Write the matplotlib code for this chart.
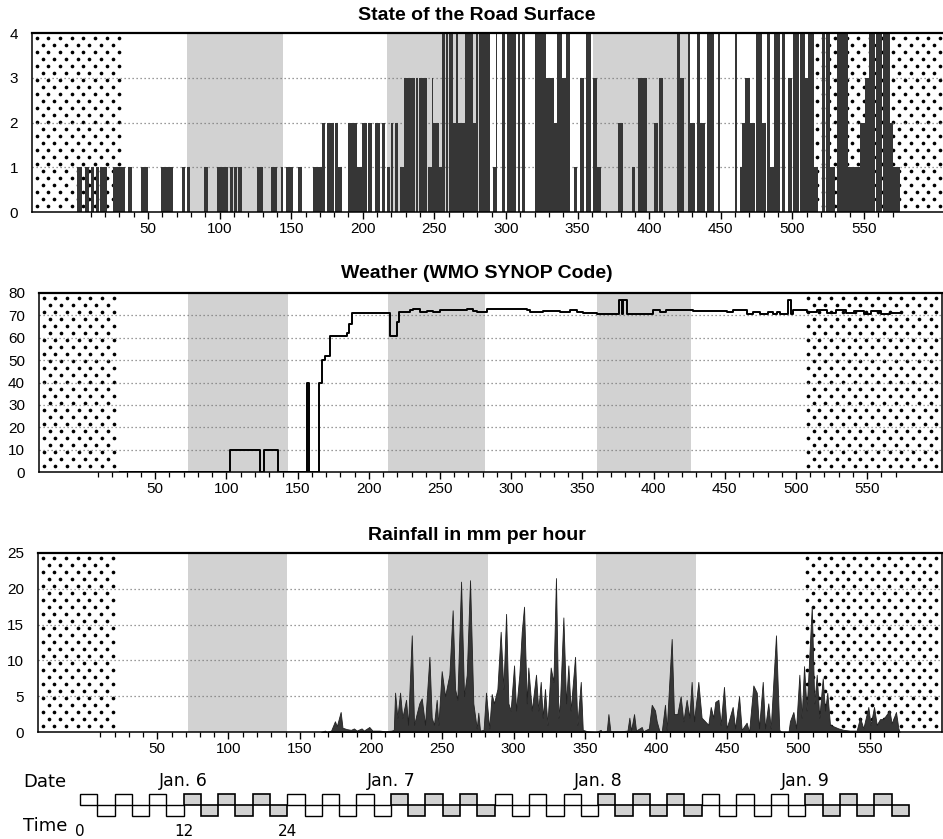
import numpy as np
import matplotlib
matplotlib.use('Agg')
import matplotlib.pyplot as plt
from matplotlib.patches import Rectangle

W, H, DPI = 943, 839, 100

# ---------------- data ----------------
# road surface state, runs of 10-minute samples: start, end, state
road_x0 = [0.2, 6.0, 10.2, 13.7, 16.5, 25.8, 36.3, 45.1, 59.1, 74.0, 77.0, 89.1, 98.0, 107.3, 110.3,
           113.1, 125.9, 135.9, 142.9, 146.4, 155.0, 165.5, 171.3, 174.8, 180.6, 183.0, 189.9, 196.2,
           199.2, 203.4, 208.5, 213.2, 216.7, 219.5, 222.5, 226.0, 228.8, 231.1, 234.6, 237.0, 239.5,
           245.5, 248.0, 249.3, 253.4, 255.0, 257.9, 260.2, 263.2, 265.3, 266.5, 271.4, 277.2, 279.1,
           281.4, 284.2, 291.2, 293.0, 297.0, 300.5, 308.6, 311.0, 320.3, 324.0, 328.0, 333.5, 335.9,
           338.9, 341.9, 347.7, 351.7, 355.9, 360.5, 363.3, 378.5, 387.8, 392.4, 395.2, 403.6, 407.1,
           419.2, 421.5, 427.3, 428.5, 433.2, 435.5, 440.2, 448.3, 459.9, 463.4, 464.6, 467.0, 470.4,
           474.6, 478.6, 482.1, 484.4, 487.2, 492.5, 497.2, 500.7, 505.0, 508.8, 511.2, 515.1, 520.5,
           523.8, 526.3, 530.9, 535.5, 539.1, 547.2, 550.7, 553.8, 558.5, 563.0, 568.2, 570.5]
road_x1 = [4.1, 8.8, 12.5, 15.8, 21.1, 34.0, 38.6, 49.8, 67.2, 75.8, 79.3, 92.1, 106.1, 109.6, 112.4,
           115.4, 130.5, 139.9, 144.5, 151.5, 157.3, 171.3, 173.6, 180.1, 183.0, 185.2, 195.7, 199.2,
           202.7, 206.2, 212.0, 215.5, 219.0, 221.3, 224.8, 228.8, 230.6, 234.1, 236.5, 238.8, 245.0,
           248.0, 249.3, 253.4, 255.0, 257.5, 259.7, 263.2, 265.0, 266.5, 271.4, 277.2, 279.1, 280.7,
           283.7, 288.9, 293.0, 294.0, 299.3, 307.0, 309.8, 313.3, 323.5, 328.0, 333.5, 335.9, 338.9,
           341.9, 344.7, 349.4, 354.5, 359.1, 363.3, 366.1, 382.0, 390.1, 394.8, 398.3, 406.4, 409.9,
           421.5, 424.3, 428.5, 432.0, 435.5, 439.0, 445.3, 449.5, 461.6, 464.6, 467.0, 470.4, 473.9,
           478.6, 481.6, 484.4, 487.2, 491.4, 494.9, 499.5, 504.5, 508.8, 511.2, 515.1, 518.1, 523.0,
           526.3, 529.8, 535.0, 539.1, 547.2, 550.7, 553.8, 558.0, 562.5, 568.2, 570.5, 575.2]
road_state = [1, 1, 1, 1, 1, 1, 1, 1, 1, 1, 1, 1, 1, 1, 1,
              1, 1, 1, 1, 1, 1, 1, 2, 2, 2, 1, 2, 1,
              2, 2, 2, 2, 1, 2, 2, 1, 3, 3, 3, 3, 3,
              1, 3, 2, 1, 4, 4, 4, 2, 4, 2, 4, 2, 4,
              4, 4, 1, 4, 4, 4, 4, 4, 4, 4, 3, 2, 4,
              3, 4, 1, 3, 4, 3, 1, 2, 1, 3, 3, 2, 3,
              4, 3, 4, 2, 4, 2, 4, 4, 4, 1, 2, 3, 2,
              4, 2, 4, 1, 4, 4, 3, 4, 4, 3, 4, 1, 4,
              4, 1, 4, 4, 1, 2, 3, 4, 4, 4, 2, 1]

# weather code (WMO SYNOP), step changes
wmo_x = [25, 102.5, 123.6, 126.6, 136, 156.4, 158.2, 165.2, 167, 169.2, 172.7, 184.4, 186, 188,
         214.9, 219.6, 221.4, 229, 231, 236, 240.6, 245.3, 250, 259.4, 268.7, 273.4, 275.7, 278,
         282.7, 310.8, 313, 322.5, 334.2, 341.2, 346, 350.6, 360, 375.9, 377.5, 378.7, 381,
         399.8, 404.4, 409, 427.9, 441.9, 451.3, 456, 465.3, 470, 474.7, 480.5, 484, 486.4,
         488.7, 494.6, 496.2, 498, 507.4, 515, 522, 528, 535, 541, 548, 553, 560, 566, 574]
wmo_code = [0, 10, 0, 10, 0, 40, 0, 40, 50, 52, 61, 62, 66, 71,
            61, 67, 71.5, 72.5, 73, 71.5, 72, 71.5, 72.5, 72.5, 72.8, 72, 71.3, 71.7,
            72.8, 72.2, 71.6, 72, 71.7, 72.5, 71.7, 71, 70.6, 77, 70.6, 77, 70.6,
            72.5, 71.7, 72.5, 72, 72, 71.4, 72.2, 70.7, 71.7, 70.7, 71.7, 70.7, 71.7,
            70.7, 77, 70.7, 72.5, 71.5, 72.4, 70.9, 72.2, 71, 72, 70.8, 71.8, 70.8, 71.2, 71.2]

# rainfall in mm per hour
rain_x = [165, 167.7, 169, 172, 174.7, 176, 178.7, 180, 183, 186, 188, 190, 193.4, 195, 198.8,
          201, 206, 210, 214.5, 216, 216.9, 218.5, 220.4, 222, 224.6, 226, 228.6, 230.2, 232,
          233.9, 235.6, 237.9, 241, 242.6, 244.2, 246.1, 247.3, 249.6, 252, 255, 257.3, 259,
          260.6, 263.2, 265.3, 267.2, 269.5, 271.8, 274.2, 275.3, 276.5, 279, 280.7, 283, 284.7,
          286.3, 288.7, 291, 292.9, 294.8, 296.4, 298, 300.4, 301.8, 304.1, 305.8, 307.4, 309.3,
          310.4, 312.8, 315.8, 317.4, 319.1, 320.5, 322.1, 323.8, 326.1, 328, 329.8, 331.5, 332.7,
          335, 336.9, 338.5, 340.1, 343.2, 344.8, 347.2, 348.6, 352, 358, 361.2, 362, 365.5, 366.6,
          368, 375, 380, 381.3, 382.5, 384.6, 386, 390, 391, 395, 397, 399.3, 400.5, 402.3, 404,
          406.3, 407.5, 411, 412.6, 415, 417.3, 419.2, 421.5, 423.4, 425, 426.7, 429.7, 432, 434.4,
          436.7, 438.4, 440.2, 441.6, 443.8, 445.4, 447.7, 449.6, 453.8, 455.5, 458.3, 460.1,
          463.6, 465.3, 468.3, 470.7, 472.3, 474.9, 476.5, 478.8, 480.5, 484.2, 486.5, 488, 493,
          494, 496.4, 498.3, 500.6, 502.2, 503.9, 505.7, 509.3, 511.1, 512.8, 514.6, 517, 518.6,
          520.2, 522.1, 524.5, 528, 531.5, 536, 540.8, 543.2, 545.5, 549, 550.6, 553, 554.9,
          557.2, 559.5, 563.8, 565.4, 568.4, 570.1, 571]
rain_mm = [0, 0.2, 0, 0.2, 1.5, 0.8, 2.8, 0.6, 0.4, 0.3, 0.5, 0.2, 0.5, 0.2, 0.7,
           0.2, 0.2, 0.1, 0.2, 0.3, 5.5, 2, 5.5, 2, 4.5, 1, 13.5, 1, 2.5,
           4, 4.7, 1, 10.5, 2, 1, 4.5, 1, 8.5, 5, 8, 17, 6,
           4.5, 21, 5, 8, 21.2, 4, 0.5, 2.7, 0.2, 0.3, 5.5, 0.5, 5.3,
           4, 6, 14, 6, 16.5, 4, 3, 9.3, 3, 8, 14, 17.5, 4,
           9, 3, 8, 3, 7, 2, 6, 1, 9, 7, 21.5, 2, 4.5,
           16, 4, 9.3, 3, 10.5, 1, 7, 0.3, 0.1, 0, 0.3, 0, 0.2, 2.5,
           0.1, 0.1, 0.2, 2, 0.2, 2.5, 0.2, 0.7, 0.1, 0.5, 3.8, 3, 1.5, 0.2, 0,
           3.8, 0.3, 13, 2.5, 2.5, 5, 1.5, 4.5, 2, 7, 1.5, 7, 2, 1.5,
           1, 3.5, 2, 4.2, 4.5, 1, 6.3, 0.5, 3.5, 0.5, 5, 0.3,
           1.3, 0, 6.5, 5.5, 0.5, 7, 0.5, 4, 0.5, 13.5, 0.3, 0, 0,
           1.5, 2.8, 0.5, 8, 2, 9.2, 3, 17.5, 4, 8, 2, 7.5, 3,
           5.5, 1, 0.8, 0.5, 0.3, 0.2, 0.2, 2, 0.5, 3.5, 1, 3.5, 1,
           1.8, 1.8, 3, 1.2, 2.8, 0.5, 0]

# night (grey) and missing-data (dotted) spans per panel, in sample units
night_road = [(77, 144), (217, 284), (361, 427)]
night_wmo = [(73, 143), (213.5, 281.6), (360, 426)]
night_rain = [(71.6, 141), (212, 282), (358, 428)]
nodata_road = [(-40, 33), (510, 700)]
nodata_wmo = [(-40, 24.6), (505, 700)]
nodata_rain = [(-40, 22.5), (503, 700)]

# time strip
night_hours = [(12, 24), (36, 48), (60, 72), (84, 96)]
date_hours = [12, 36, 60, 84]
date_labels = ['Jan. 6', 'Jan. 7', 'Jan. 8', 'Jan. 9']
hour_ticks = [0, 12, 24]

# ---------------- plotting ----------------
plt.rcParams['font.family'] = ['Liberation Sans', 'DejaVu Sans']
fig = plt.figure(figsize=(W / DPI, H / DPI), dpi=DPI)

BAR = '#363636'
GREY = '#d2d2d2'


def make_axes(left, right, top, bottom, x0px, ppu):
    ax = fig.add_axes([left / W, 1 - bottom / H, (right - left) / W, (bottom - top) / H])
    ax.set_xlim((left - x0px) / ppu, (right - x0px) / ppu)
    return ax


def add_dots(ax, x0, x1, ppu):
    x0 = max(x0, ax.get_xlim()[0])
    x1 = min(x1, ax.get_xlim()[1])
    dx = 11.7 / ppu
    xs, ys = [], []
    for i, y in enumerate(np.arange(0.035, 0.99, 7.0 / 179)):
        cols = np.arange(x0 + dx * (0.4 + 0.5 * (i % 2)), x1 - dx * 0.15, dx)
        xs.extend(cols)
        ys.extend([y] * len(cols))
    ax.scatter(xs, ys, s=7, c='black', lw=0, transform=ax.get_xaxis_transform(), zorder=1.2)


def style(ax, ymax, ystep, nights, nodata, ppu):
    for a, b in nights:
        ax.axvspan(a, b, color=GREY, lw=0, zorder=0.5)
    for a, b in nodata:
        add_dots(ax, a, b, ppu)
    for yv in np.arange(ystep, ymax, ystep):
        ax.axhline(yv, color='#7a7a7a', lw=0.9, ls=(0, (1, 2.2)), zorder=1.5)
    ax.set_ylim(0, ymax)
    ax.set_yticks(np.arange(0, ymax + 0.1, ystep))
    ax.set_xticks(np.arange(50, 551, 50))
    ax.set_xticks(np.arange(10, 571, 10), minor=True)
    ax.tick_params(axis='x', which='major', length=5, width=1, direction='out', labelsize=11, pad=2.5)
    ax.tick_params(axis='x', which='minor', length=3.5, width=0.9, direction='out')
    ax.tick_params(axis='y', length=0, labelsize=11, pad=10)
    for sp in ax.spines.values():
        sp.set_linewidth(1.1)
    ax.spines['top'].set_linewidth(1.6)


# state of the road surface
ax1 = make_axes(32, 990, 33, 212, 76.4, 1.432)
style(ax1, 4, 1, night_road, nodata_road, 1.432)
ax1.bar(road_x0, road_state, width=np.subtract(road_x1, road_x0), align='edge',
        color=BAR, lw=0, zorder=2)

# weather code
ax2 = make_axes(39, 942, 293, 472, 84, 1.424)
style(ax2, 80, 10, night_wmo, nodata_wmo, 1.424)
ax2.step(wmo_x, wmo_code, where='post', color='black', lw=1.4, zorder=3)

# rainfall
ax3 = make_axes(38, 942, 553, 732, 86, 1.425)
style(ax3, 25, 5, night_rain, nodata_rain, 1.425)
ax3.fill_between(rain_x, rain_mm, color=BAR, lw=0.6, edgecolor='#222222', zorder=2)

for ytop, title in [(15, 'State of the Road Surface'), (274, 'Weather (WMO SYNOP Code)'),
                    (535, 'Rainfall in mm per hour')]:
    fig.text(477 / W, 1 - ytop / H, title, ha='center', va='center', fontsize=14, fontweight='bold')

# time strip below the rainfall panel
ax4 = make_axes(38, 942, 739, 839, 86, 1.425)
ax4.set_ylim(-(839 - 805) / 11, (805 - 739) / 11)
ax4.axis('off')
h0, per_h = -4.2, 6.06
for h in range(0, 96, 2):
    k = h // 2
    night = any(a <= h < b for a, b in night_hours)
    ax4.add_patch(Rectangle((h0 + h * per_h, 0 if k % 2 == 0 else -1), 2 * per_h, 1,
                            facecolor=GREY if night else 'white', edgecolor='black',
                            lw=1.2 if night else 1.0, zorder=2))
for h, lab in zip(date_hours, date_labels):
    ax4.text(h0 + h * per_h, 2.18, lab, ha='center', va='center', fontsize=12.5,
             family='DejaVu Sans')
for h in hour_ticks:
    ax4.text(h0 + h * per_h, -2.45, str(h), ha='center', va='center', fontsize=11,
             family='DejaVu Sans')
fig.text(45 / W, 1 - 782 / H, 'Date', ha='center', va='center', fontsize=13, family='DejaVu Sans')
fig.text(45 / W, 1 - 826 / H, 'Time', ha='center', va='center', fontsize=13, family='DejaVu Sans')

fig.savefig('out.png', dpi=DPI, facecolor='white')
